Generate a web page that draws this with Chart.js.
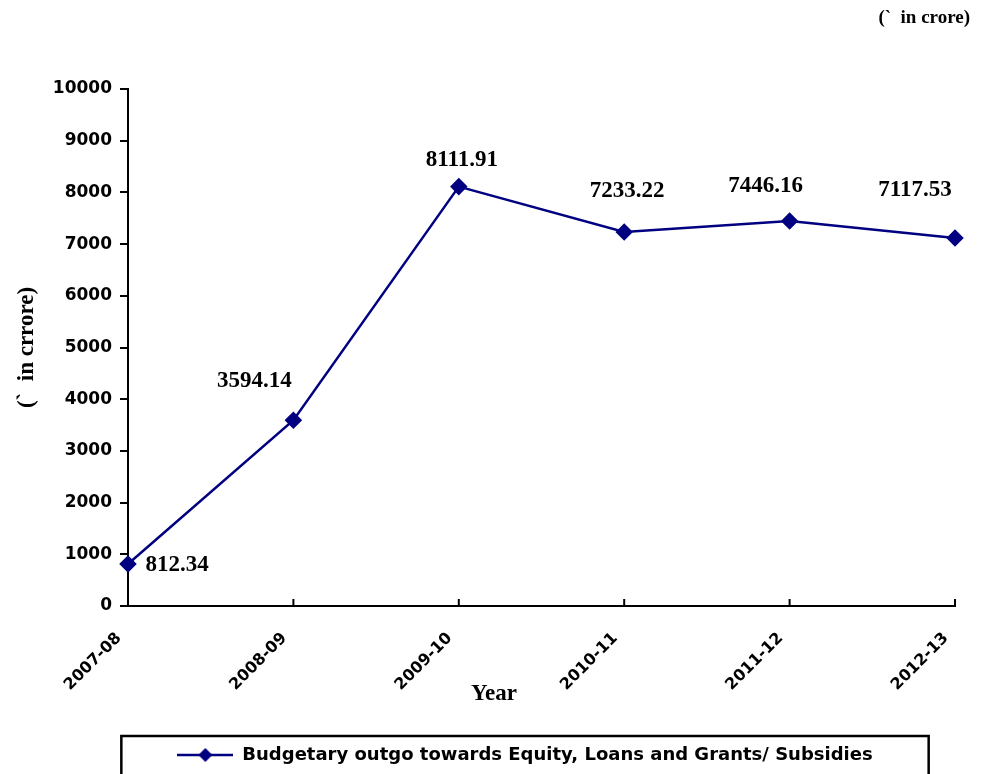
<!DOCTYPE html>
<html>
<head>
<meta charset="utf-8">
<script src="https://cdn.jsdelivr.net/npm/chart.js@4.4.1/dist/chart.umd.min.js"></script>
<style>
  html, body { margin: 0; padding: 0; background: #ffffff; }
  #wrap { width: 988px; height: 774px; }
</style>
</head>
<body>
<div id="wrap"><canvas id="c" width="988" height="774"></canvas></div>
<script>
// ---- data ----
const years = ['2007-08', '2008-09', '2009-10', '2010-11', '2011-12', '2012-13'];
const outgo = [812.34, 3594.14, 8111.91, 7233.22, 7446.16, 7117.53];
const seriesName = 'Budgetary outgo towards Equity, Loans and Grants/ Subsidies';
const yTitle = '(`  in crrore)';
const xTitle = 'Year';
const unitNote = '(`  in crore)';
const yMin = 0, yMax = 10000, yStep = 1000;

// ---- styles ----
const NAVY = '#000080';
const SANS = '"DejaVu Sans", Arial, sans-serif';
const SERIF = '"Liberation Serif", "Times New Roman", serif';
const labelOffsets = [[49, 1], [-39, -39], [3, -27], [3, -41], [-24, -35], [-40, -48]];

// legend marker: line with diamond
const marker = document.createElement('canvas');
marker.width = 56; marker.height = 18;
(function () {
  const g = marker.getContext('2d');
  g.strokeStyle = NAVY; g.lineWidth = 2.5;
  g.beginPath(); g.moveTo(0, 9); g.lineTo(56, 9); g.stroke();
  g.fillStyle = NAVY;
  g.beginPath(); g.moveTo(28, 2); g.lineTo(35, 9); g.lineTo(28, 16); g.lineTo(21, 9); g.closePath(); g.fill();
})();

const decorPlugin = {
  id: 'decor',
  afterLayout(chart) {
    // legend sits centred under the whole page width minus the y-axis block
    const lg = chart.legend;
    if (lg) {
      lg.left = 95;
      lg.width = lg.right - lg.left;
    }
  },
  afterDatasetsDraw(chart) {
    const ctx = chart.ctx;
    const meta = chart.getDatasetMeta(0);
    ctx.save();
    ctx.font = 'bold 23px ' + SERIF;
    ctx.fillStyle = '#000';
    ctx.textAlign = 'center';
    ctx.textBaseline = 'middle';
    meta.data.forEach((pt, i) => {
      const o = labelOffsets[i] || [0, -30];
      ctx.fillText(outgo[i].toFixed(2), pt.x + o[0], pt.y + o[1]);
    });
    // inward tick marks on the category axis
    const xs = chart.scales.x;
    ctx.strokeStyle = '#000';
    ctx.lineWidth = 2;
    xs.ticks.forEach((t, i) => {
      const px = xs.getPixelForTick(i);
      ctx.beginPath();
      ctx.moveTo(px, xs.top);
      ctx.lineTo(px, xs.top - 7);
      ctx.stroke();
    });
    ctx.restore();
  },
  afterDraw(chart) {
    const ctx = chart.ctx;
    ctx.save();
    ctx.fillStyle = '#000';
    ctx.textBaseline = 'middle';
    // x axis title, centred on the page
    ctx.font = 'bold 23px ' + SERIF;
    ctx.textAlign = 'center';
    ctx.fillText(xTitle, chart.width / 2, 694);
    // unit note top right
    ctx.font = 'bold 19px ' + SERIF;
    ctx.textAlign = 'right';
    ctx.fillText(unitNote, 970, 18);
    // legend frame
    const lg = chart.legend;
    if (lg && lg.legendHitBoxes && lg.legendHitBoxes.length) {
      const hb = lg.legendHitBoxes[0];
      const cy = hb.top + hb.height / 2;
      ctx.strokeStyle = '#000';
      ctx.lineWidth = 2.5;
      ctx.strokeRect(hb.left - 56, cy - 19, hb.width + 112, 40);
    }
    ctx.restore();
  }
};

new Chart(document.getElementById('c'), {
  type: 'line',
  data: {
    labels: years,
    datasets: [{
      label: seriesName,
      data: outgo,
      borderColor: NAVY,
      backgroundColor: NAVY,
      borderWidth: 2.5,
      pointStyle: 'rectRot',
      pointRadius: 7,
      pointBackgroundColor: NAVY,
      pointBorderColor: NAVY,
      tension: 0,
      clip: false
    }]
  },
  options: {
    responsive: false,
    animation: false,
    layout: { padding: { top: 89, right: 33, left: 0, bottom: 0 } },
    plugins: {
      legend: {
        position: 'bottom',
        labels: {
          usePointStyle: true,
          pointStyleWidth: 56,
          color: '#000',
          padding: 10,
          font: { family: SANS, size: 18, weight: 'bold' },
          generateLabels(chart) {
            return [{ text: seriesName, pointStyle: marker, fillStyle: NAVY, strokeStyle: NAVY, lineWidth: 0, datasetIndex: 0, hidden: false }];
          }
        }
      },
      tooltip: { enabled: false }
    },
    scales: {
      x: {
        type: 'category',
        offset: false,
        grid: { display: false },
        border: { display: true, color: '#000', width: 2 },
        ticks: {
          autoSkip: false,
          maxRotation: 45,
          minRotation: 45,
          padding: 15,
          labelOffset: -9,
          color: '#000',
          font: { family: SANS, size: 16, weight: 'bold' }
        },
        afterFit(s) { s.height = 130; }
      },
      y: {
        min: yMin,
        max: yMax,
        ticks: {
          stepSize: yStep,
          padding: 8,
          color: '#000',
          font: { family: SANS, size: 17, weight: 'bold' },
          callback: (v) => String(v)
        },
        grid: { drawOnChartArea: false, drawTicks: true, tickLength: 8, color: '#000', lineWidth: 2 },
        border: { display: true, color: '#000', width: 2 },
        title: {
          display: true,
          text: yTitle,
          color: '#000',
          padding: { top: 13, bottom: 0 },
          font: { family: SERIF, size: 23, weight: 'bold' }
        },
        afterFit(s) { s.width = 128; }
      }
    }
  },
  plugins: [decorPlugin]
});
</script>
</body>
</html>
